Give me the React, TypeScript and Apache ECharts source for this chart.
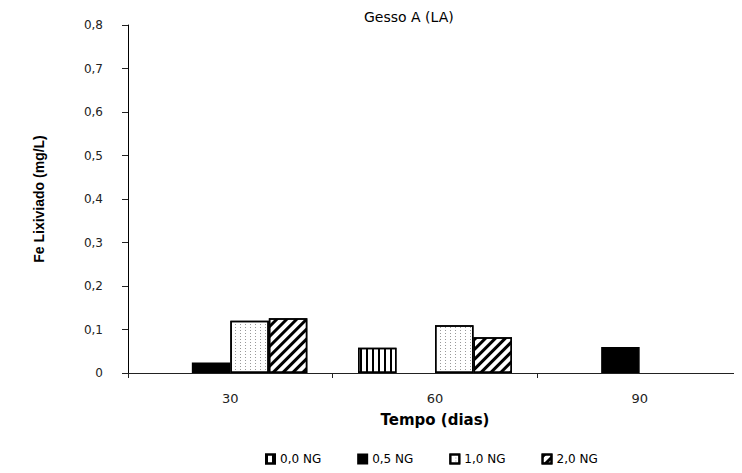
import { useEffect, useRef } from "react";
import * as echarts from "echarts";

// Tempo (dias)
const categories = ["30", "60", "90"];

// Fe lixiviado (mg/L) por dose de gesso
const serieNames = ["0,0 NG", "0,5 NG", "1,0 NG", "2,0 NG"];
const ng00 = [0, 0.058, 0];
const ng05 = [0.024, 0, 0.06];
const ng10 = [0.12, 0.11, 0];
const ng20 = [0.126, 0.082, 0];

const yTicks = { min: 0, max: 0.8, interval: 0.1 };

const FONT = "DejaVu Sans";

export default function App() {
  const ref = useRef<HTMLDivElement>(null);

  useEffect(() => {
    if (!ref.current) return;
    const chart = echarts.init(ref.current, undefined, { renderer: "svg" });

    const border = { borderColor: "#000", borderWidth: 1.5 };

    const styles: any[] = [
      {
        color: "#fff",
        ...border,
        decal: {
          symbol: "rect",
          symbolSize: 1,
          color: "#000",
          dashArrayX: [1.5, 4],
          dashArrayY: [20, 0],
          rotation: 0,
        },
      },
      { color: "#000", ...border },
      {
        color: "#fff",
        ...border,
        decal: {
          symbol: "rect",
          symbolSize: 1,
          color: "#999",
          dashArrayX: [1, 3.5],
          dashArrayY: [1, 2],
          rotation: 0,
        },
      },
      {
        color: "#fff",
        ...border,
        decal: {
          symbol: "rect",
          symbolSize: 1,
          color: "#000",
          dashArrayX: [20, 0],
          dashArrayY: [2.2, 3.2],
          rotation: -Math.PI / 4,
        },
      },
    ];

    const datasets = [ng00, ng05, ng10, ng20];

    chart.setOption({
      animation: false,
      backgroundColor: "#fff",
      title: {
        text: "Gesso A (LA)",
        left: 364,
        top: 10,
        padding: 0,
        textStyle: {
          fontFamily: FONT,
          fontSize: 14,
          fontWeight: "normal",
          color: "#000",
        },
      },
      legend: {
        data: serieNames,
        left: 265,
        top: 453,
        padding: 0,
        itemWidth: 9,
        itemHeight: 9,
        itemGap: 36,
        icon: "rect",
        textStyle: {
          fontFamily: FONT,
          fontSize: 12,
          color: "#000",
        },
      },
      grid: {
        left: 128,
        top: 25,
        width: 619,
        height: 348,
      },
      xAxis: {
        type: "category",
        data: categories,
        boundaryGap: true,
        name: "Tempo (dias)",
        nameLocation: "middle",
        nameGap: 39,
        nameTextStyle: {
          fontFamily: FONT,
          fontSize: 15,
          fontWeight: "bold",
          color: "#000",
        },
        axisLine: { lineStyle: { color: "#222", width: 1 } },
        axisTick: { show: true, length: 5, lineStyle: { color: "#222" } },
        axisLabel: {
          margin: 19,
          fontFamily: FONT,
          fontSize: 13,
          color: "#222",
        },
      },
      yAxis: {
        type: "value",
        min: yTicks.min,
        max: yTicks.max,
        interval: yTicks.interval,
        name: "Fe Lixiviado (mg/L)",
        nameLocation: "middle",
        nameGap: 82,
        nameTextStyle: {
          fontFamily: "Liberation Sans",
          fontSize: 14,
          fontWeight: "bold",
          color: "#000",
        },
        splitLine: { show: false },
        axisLine: { show: true, lineStyle: { color: "#000", width: 1 } },
        axisTick: { show: true, length: 6, lineStyle: { color: "#222" } },
        axisLabel: {
          margin: 25,
          fontFamily: FONT,
          fontSize: 12,
          color: "#222",
          formatter: (v: number) =>
            v === 0 ? "0" : v.toFixed(1).replace(".", ","),
        },
      },
      series: serieNames.map((name, i) => ({
        name,
        type: "bar",
        // zero-valued bars get no outline so nothing shows on the axis
        data: datasets[i].map((v) =>
          v === 0 ? { value: v, itemStyle: { borderWidth: 0 } } : v
        ),
        barWidth: 38.5,
        barGap: "0%",
        itemStyle: styles[i],
        emphasis: { disabled: true },
      })),
    });

    return () => chart.dispose();
  }, []);

  return <div ref={ref} style={{ width: 742, height: 473, margin: -8 }} />;
}
